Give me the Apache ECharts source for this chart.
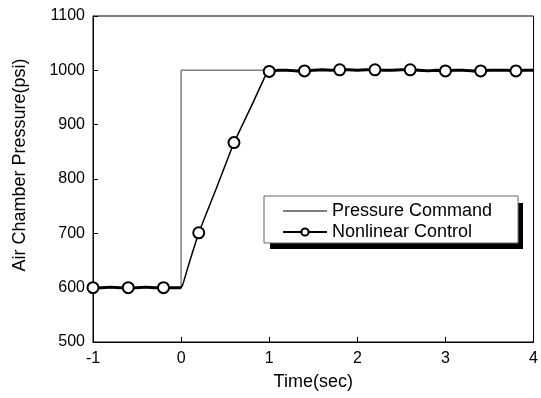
<!DOCTYPE html>
<html>
<head>
<meta charset="utf-8">
<script src="https://cdn.jsdelivr.net/npm/echarts@6/dist/echarts.min.js"></script>
<style>
  html, body { margin: 0; padding: 0; background: #fff; }
  #chart { width: 541px; height: 398px; }
</style>
</head>
<body>
<div id="chart"></div>
<script>
// 数据
const cmdTime = [-1, 0, 0, 4]
const cmdPressure = [600, 600, 1000, 1000]

const ctrlTime = [
  -1, -0.9, -0.8, -0.7, -0.6, -0.5, -0.4, -0.3, -0.2, -0.1, 0,
  0.02, 0.1, 0.2, 0.4, 0.6, 0.8, 0.95, 1.0,
  1.1, 1.2, 1.3, 1.4, 1.5, 1.6, 1.7, 1.8, 1.9, 2.0,
  2.1, 2.2, 2.3, 2.4, 2.5, 2.6, 2.7, 2.8, 2.9, 3.0,
  3.1, 3.2, 3.3, 3.4, 3.5, 3.6, 3.7, 3.8, 3.9, 4.0
]
const ctrlPressure = [
  600, 600, 601, 600, 600, 600, 601, 600, 600, 600, 600,
  606, 650, 701, 783, 867, 935, 988, 998,
  1000, 1000, 999, 999, 1000, 1001, 1000, 1001, 1001, 1000,
  1001, 1001, 1000, 1000, 1001, 1001, 1000, 999, 1000, 999,
  1000, 1000, 999, 999, 1000, 1000, 1000, 999, 1000, 1000
]
const markerTimes = [-1, -0.6, -0.2, 0.2, 0.6, 1.0, 1.4, 1.8, 2.2, 2.6, 3.0, 3.4, 3.8]

const xTicks = { min: -1, max: 4, interval: 1 }
const yTicks = { min: 500, max: 1100, interval: 100 }

const font = "'Liberation Sans', Arial, sans-serif"

const isMarker = (t) => markerTimes.some(m => Math.abs(m - t) < 1e-6)

const cmdData = cmdTime.map((t, i) => [t, cmdPressure[i]])
const ctrlData = ctrlTime.map((t, i) => {
  const item = { value: [t, ctrlPressure[i]] }
  if (!isMarker(t)) item.symbol = 'none'
  return item
})
// 平稳段（噪声较粗）
const lowBand = ctrlTime.map((t, i) => (t <= 0 ? [t, ctrlPressure[i]] : [t, null]))
const highBand = ctrlTime.map((t, i) => (t >= 1.0 ? [t, ctrlPressure[i]] : [t, null]))

const chart = echarts.init(document.getElementById('chart'))
const option = {
  animation: false,
  backgroundColor: '#fff',
  grid: {
    left: 93,
    right: 5,
    top: 16,
    bottom: 56,
    show: true,
    borderColor: '#000',
    borderWidth: 1
  },
  // 图例阴影
  graphic: [
    {
      type: 'rect',
      left: 270,
      top: 203,
      shape: { width: 253, height: 46 },
      style: { fill: '#000' },
      z: 3
    }
  ],
  legend: {
    data: [
      { name: 'Pressure Command', itemStyle: { opacity: 0 } },
      { name: 'Nonlinear Control' }
    ],
    orient: 'vertical',
    left: 264,
    top: 196,
    itemWidth: 44,
    itemHeight: 9,
    itemGap: 3,
    padding: [6, 26, 2, 18],
    backgroundColor: '#fff',
    borderColor: '#666',
    borderWidth: 1,
    z: 5,
    textStyle: { fontFamily: font, fontSize: 18, color: '#000' }
  },
  xAxis: {
    type: 'value',
    min: xTicks.min,
    max: xTicks.max,
    interval: xTicks.interval,
    name: 'Time(sec)',
    nameLocation: 'middle',
    nameGap: 31,
    nameTextStyle: { fontFamily: font, fontSize: 18, color: '#000' },
    axisLine: { show: true, onZero: false, lineStyle: { color: '#000', width: 1 } },
    axisTick: { show: true, inside: true, length: 5, lineStyle: { color: '#000' } },
    axisLabel: { fontFamily: font, fontSize: 16, color: '#000', margin: 9 },
    splitLine: { show: false }
  },
  yAxis: {
    type: 'value',
    min: yTicks.min,
    max: yTicks.max,
    interval: yTicks.interval,
    name: 'Air Chamber Pressure(psi)',
    nameLocation: 'middle',
    nameGap: 64,
    nameTextStyle: { fontFamily: font, fontSize: 18, color: '#000', padding: [0, 0, 0, 28] },
    axisLine: { show: true, onZero: false, lineStyle: { color: '#000', width: 1 } },
    axisTick: { show: true, inside: true, length: 5, lineStyle: { color: '#000' } },
    axisLabel: {
      fontFamily: font,
      fontSize: 16,
      color: '#000',
      margin: 8,
      formatter: (v) => String(v)
    },
    splitLine: { show: false }
  },
  series: [
    {
      name: 'Pressure Command',
      type: 'line',
      data: cmdData,
      symbol: 'none',
      lineStyle: { color: '#808080', width: 1.5 },
      itemStyle: { color: '#808080' },
      z: 1
    },
    {
      type: 'line',
      data: lowBand,
      symbol: 'none',
      connectNulls: false,
      lineStyle: { color: '#000', width: 3 },
      silent: true,
      z: 2
    },
    {
      type: 'line',
      data: highBand,
      symbol: 'none',
      connectNulls: false,
      lineStyle: { color: '#000', width: 3 },
      silent: true,
      z: 2
    },
    {
      name: 'Nonlinear Control',
      type: 'line',
      data: ctrlData,
      symbol: 'emptyCircle',
      symbolSize: 11,
      lineStyle: { color: '#000', width: 1.5 },
      itemStyle: { color: '#000', borderColor: '#000', borderWidth: 1 },
      z: 3
    }
  ]
}
chart.setOption(option)
</script>
</body>
</html>
